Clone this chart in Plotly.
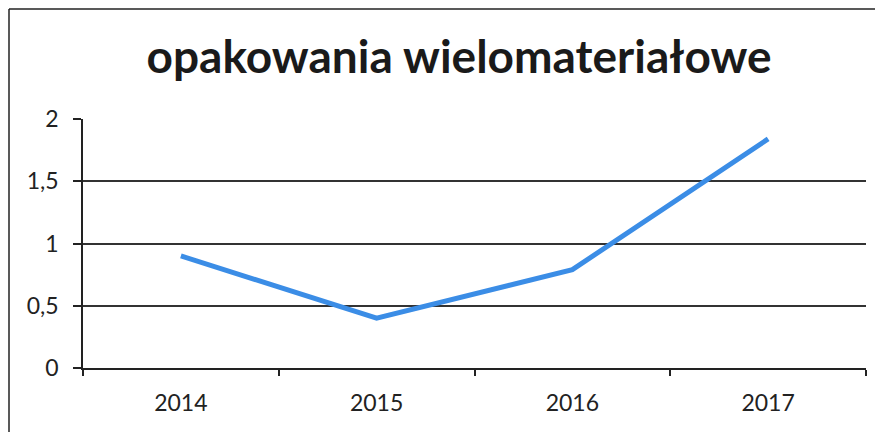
import plotly.graph_objects as go

years = ["2014", "2015", "2016", "2017"]
values = [0.9, 0.4, 0.79, 1.84]
y_ticks = [0, 0.5, 1, 1.5, 2]
y_tick_labels = ["0", "0,5", "1", "1,5", "2"]
title_text = "opakowania wielomateriałowe"

# page has an 8px body margin, so figure coords = page coords - 8
OFF = 8
W, H = 883, 432
ml, mt = 83 - OFF, 119 - OFF
mr = (W + OFF) - 866
mb = (H + OFF) - 368

fig = go.Figure()
fig.add_trace(go.Scatter(
    x=years, y=values, mode="lines",
    line=dict(color="#3b8de6", width=5),
    showlegend=False, hoverinfo="skip",
))

pw = W - ml - mr
ph = H - mt - mb
bx = (1 - ml) / pw
by = (H - 1 - mb) / ph
fig.add_shape(type="line", xref="paper", yref="paper", x0=bx, x1=bx, y0=-2, y1=by,
              line=dict(color="#222", width=1.5))
fig.add_shape(type="line", xref="paper", yref="paper", x0=bx, x1=2, y0=by, y1=by,
              line=dict(color="#222", width=1.5))

fig.update_layout(
    width=W, height=H,
    margin=dict(l=ml, r=mr, t=mt, b=mb),
    paper_bgcolor="white", plot_bgcolor="white",
    title=dict(text=title_text, x=(459 - OFF) / W, xanchor="center",
               y=1 - (57 - OFF) / H, yanchor="middle",
               font=dict(family="Lato", size=46, color="#1a1a1a", weight=700)),
    font=dict(family="Lato", size=23, color="#222"),
    xaxis=dict(
        type="category", tickson="boundaries", ticks="outside", ticklen=6,
        tickcolor="#222", tickwidth=1.5, showline=True, linecolor="#222", linewidth=1.5,
        showgrid=False, tickfont=dict(size=23, color="#222"), ticklabelstandoff=14,
        range=[-0.5, 3.5],
    ),
    yaxis=dict(
        range=[0, 2], tickvals=y_ticks, ticktext=y_tick_labels,
        ticks="outside", ticklen=8, tickcolor="#222", tickwidth=1.5,
        showline=True, linecolor="#222", linewidth=1.5,
        showgrid=True, gridcolor="#333", gridwidth=1.5, zeroline=False,
        tickfont=dict(size=23, color="#222"), ticklabelstandoff=10,
    ),
)

fig.write_html("out.html")
